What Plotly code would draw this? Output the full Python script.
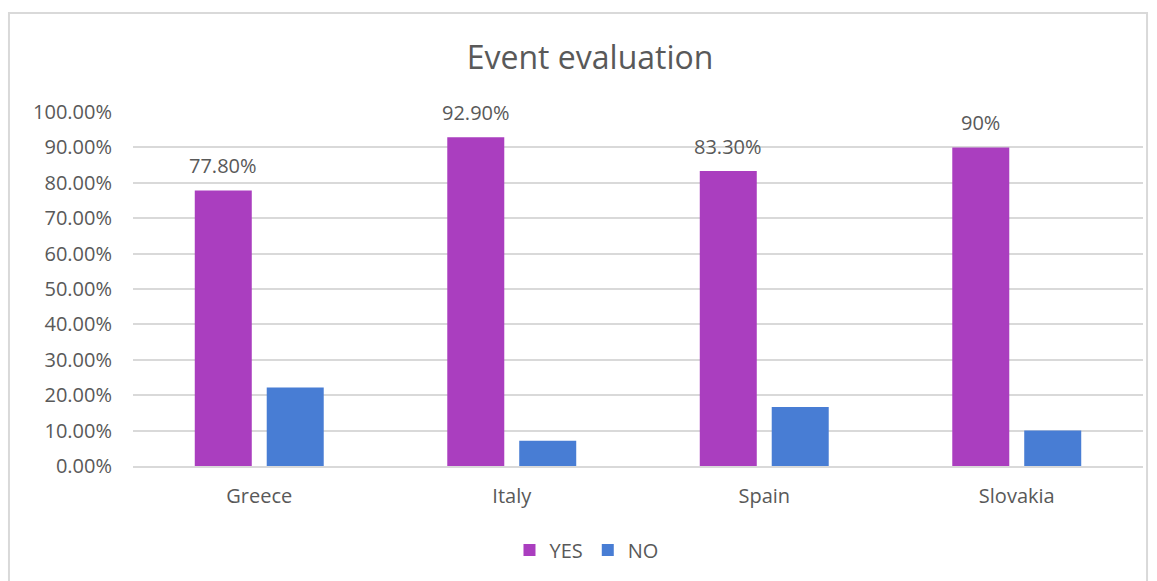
import plotly.graph_objects as go

countries = ["Greece", "Italy", "Spain", "Slovakia"]
yes_values = [0.778, 0.929, 0.833, 0.90]
no_values = [0.222, 0.071, 0.167, 0.10]
yes_labels = ["77.80%", "92.90%", "83.30%", "90%"]
y_ticks = [0, 0.1, 0.2, 0.3, 0.4, 0.5, 0.6, 0.7, 0.8, 0.9, 1.0]

YES_COLOR = "#AA3EBF"
NO_COLOR = "#487DD4"
TEXT_COLOR = "#595959"
GRID_COLOR = "#D9D9D9"
FONT = "Open Sans"
FS = 20

fig = go.Figure()
fig.add_trace(go.Bar(name="YES", x=countries, y=yes_values,
                     marker=dict(color=YES_COLOR, line=dict(width=0))))
fig.add_trace(go.Bar(name="NO", x=countries, y=no_values,
                     marker=dict(color=NO_COLOR, line=dict(width=0))))

# value labels above the YES bars
for c, v, t in zip(countries, yes_values, yes_labels):
    fig.add_annotation(x=c, y=v, text=t, showarrow=False, xshift=-36,
                       yshift=25, font=dict(family=FONT, size=FS, color=TEXT_COLOR))

# outer chart frame
fig.add_shape(type="rect", xref="paper", yref="paper",
              x0=-0.1228, x1=1.004, y0=-0.40, y1=1.2797,
              line=dict(color=GRID_COLOR, width=2), fillcolor="rgba(0,0,0,0)",
              layer="below")

fig.update_layout(
    width=1157, height=581,
    margin=dict(l=133, r=14, t=112, b=115),
    paper_bgcolor="white", plot_bgcolor="white",
    barmode="group", bargap=0.43, bargroupgap=0.208,
    title=dict(text="Event evaluation", x=0.51, xanchor="center",
               y=0.90, yanchor="middle",
               font=dict(family=FONT, size=32, color=TEXT_COLOR)),
    font=dict(family=FONT, size=FS, color=TEXT_COLOR),
    showlegend=True,
    legend=dict(orientation="h", x=0.449, xanchor="center", y=-0.237,
                yanchor="middle", font=dict(family=FONT, size=FS, color=TEXT_COLOR),
                itemwidth=30, tracegroupgap=0),
    xaxis=dict(showgrid=False, showline=True, linecolor=GRID_COLOR, linewidth=2,
               ticks="", tickfont=dict(family=FONT, size=FS, color=TEXT_COLOR),
               ticklabelstandoff=11),
    yaxis=dict(range=[0, 1.0], tickvals=y_ticks, tickformat=".2%",
               showgrid=True, gridcolor=GRID_COLOR, gridwidth=2,
               zeroline=False, showline=False, ticks="",
               tickfont=dict(family=FONT, size=FS, color=TEXT_COLOR),
               ticklabelstandoff=20),
)

fig.write_html("out.html")
